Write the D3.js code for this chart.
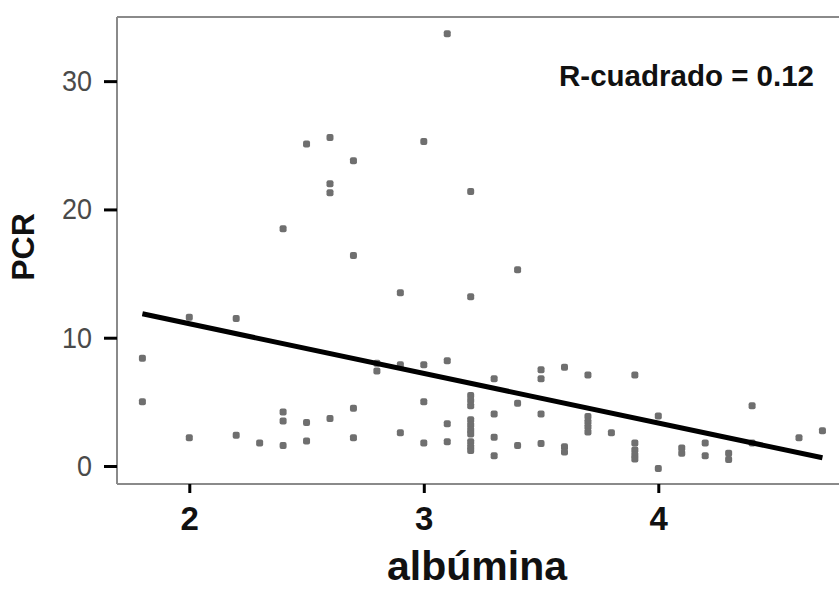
<!DOCTYPE html>
<html>
<head>
<meta charset="utf-8">
<script src="https://cdn.jsdelivr.net/npm/d3@7/dist/d3.min.js"></script>
<style>
  html, body { margin: 0; padding: 0; background: #fff; }
  svg { display: block; }
  text { font-family: "Liberation Sans", Arial, sans-serif; }
</style>
</head>
<body>
<svg id="chart" width="839" height="589"></svg>
<script>
// Albumin (x) per observation
const albumina = [
  1.8, 1.8,
  2.0, 2.0,
  2.2, 2.2,
  2.3,
  2.4, 2.4, 2.4, 2.4,
  2.5, 2.5, 2.5,
  2.6, 2.6, 2.6, 2.6,
  2.7, 2.7, 2.7, 2.7,
  2.8, 2.8,
  2.9, 2.9, 2.9,
  3.0, 3.0, 3.0, 3.0,
  3.1, 3.1, 3.1, 3.1,
  3.2, 3.2, 3.2, 3.2, 3.2, 3.2, 3.2, 3.2, 3.2, 3.2, 3.2, 3.2,
  3.3, 3.3, 3.3, 3.3,
  3.4, 3.4, 3.4,
  3.5, 3.5, 3.5, 3.5,
  3.6, 3.6, 3.6,
  3.7, 3.7, 3.7, 3.7, 3.7,
  3.8,
  3.9, 3.9, 3.9, 3.9, 3.9,
  4.0, 4.0,
  4.1, 4.1,
  4.2, 4.2,
  4.3, 4.3,
  4.4, 4.4,
  4.6,
  4.7
];
// C-reactive protein (y) per observation
const pcr = [
  8.4, 5.0,
  11.6, 2.2,
  11.5, 2.4,
  1.8,
  18.5, 4.2, 3.5, 1.6,
  25.1, 3.4, 1.95,
  25.6, 22.0, 21.3, 3.7,
  23.8, 16.4, 4.5, 2.2,
  8.0, 7.4,
  13.5, 7.9, 2.6,
  25.3, 7.9, 5.0, 1.8,
  33.7, 8.2, 3.3, 1.9,
  21.4, 13.2, 5.5, 5.1, 4.7, 3.6, 3.2, 2.8, 2.5, 1.9, 1.5, 1.2,
  6.8, 4.05, 2.25, 0.8,
  15.3, 4.9, 1.6,
  7.5, 6.8, 4.05, 1.75,
  7.7, 1.5, 1.1,
  7.1, 3.85, 3.45, 3.05, 2.65,
  2.6,
  7.1, 1.8, 1.25, 0.85, 0.55,
  3.9, -0.2,
  1.4, 1.0,
  1.8, 0.8,
  1.0, 0.5,
  4.7, 1.8,
  2.2,
  2.75
];
// Fitted line PCR = a + b * albumina, drawn across the observed albumin range
const fitIntercept = 18.83;
const fitSlope = -3.87;
const rSquaredLabel = "R-cuadrado = 0.12";

const xTicks = [2, 3, 4];
const yTicks = [0, 10, 20, 30];
const xTitle = "albúmina";
const yTitle = "PCR";

const svg = d3.select("#chart");
const plotLeft = 117, plotRight = 839, plotTop = 17, plotBottom = 484;

const x = d3.scaleLinear().domain([1.6917, 4.7706]).range([plotLeft, plotRight]);
const y = d3.scaleLinear().domain([-1.403, 35.0]).range([plotBottom, plotTop]);

// frame lines (top, left, bottom)
const frame = svg.append("g").attr("stroke", "#8a8a8a").attr("stroke-width", 2).attr("fill", "none");
frame.append("line").attr("x1", plotLeft).attr("x2", plotRight).attr("y1", plotTop).attr("y2", plotTop);
frame.append("line").attr("x1", plotLeft).attr("x2", plotLeft).attr("y1", plotTop).attr("y2", plotBottom);
frame.append("line").attr("x1", plotLeft).attr("x2", plotRight).attr("y1", plotBottom).attr("y2", plotBottom);

// y axis
const yAxis = svg.append("g")
  .attr("transform", `translate(${plotLeft},0)`)
  .call(d3.axisLeft(y).tickValues(yTicks).tickSize(13).tickPadding(9).tickFormat(d3.format("d")));
yAxis.select(".domain").remove();
yAxis.selectAll(".tick line").attr("stroke", "#000").attr("stroke-width", 3);
yAxis.selectAll(".tick text")
  .attr("fill", "#4a4a4a")
  .attr("font-size", 29)
  .attr("font-family", "'Liberation Sans', Arial, sans-serif")
  .attr("transform", "scale(0.93,1)")
  .attr("x", -25 / 0.93);

// x axis
const xAxis = svg.append("g")
  .attr("transform", `translate(0,${plotBottom})`)
  .call(d3.axisBottom(x).tickValues(xTicks).tickSize(9).tickPadding(14).tickFormat(d3.format("d")));
xAxis.select(".domain").remove();
xAxis.selectAll(".tick line").attr("stroke", "#000").attr("stroke-width", 3);
xAxis.selectAll(".tick text")
  .attr("fill", "#111")
  .attr("font-size", 33)
  .attr("font-weight", "bold")
  .attr("font-family", "'Liberation Sans', Arial, sans-serif");

// points
svg.append("g")
  .selectAll("rect")
  .data(albumina.map((a, i) => [a, pcr[i]]))
  .join("rect")
  .attr("x", d => x(d[0]) - 3.5)
  .attr("y", d => y(d[1]) - 3.5)
  .attr("width", 7)
  .attr("height", 7)
  .attr("rx", 2)
  .attr("fill", "#6f6f6f");

// regression line
const xr = d3.extent(albumina);
svg.append("line")
  .attr("x1", x(xr[0])).attr("y1", y(fitIntercept + fitSlope * xr[0]))
  .attr("x2", x(xr[1])).attr("y2", y(fitIntercept + fitSlope * xr[1]))
  .attr("stroke", "#000")
  .attr("stroke-width", 5);

// R squared annotation
svg.append("text")
  .attr("x", 814).attr("y", 86)
  .attr("text-anchor", "end")
  .attr("font-size", 29.5)
  .attr("font-weight", "bold")
  .attr("fill", "#111")
  .text(rSquaredLabel);

// axis titles
svg.append("text")
  .attr("x", 477).attr("y", 580)
  .attr("text-anchor", "middle")
  .attr("font-size", 41)
  .attr("font-weight", "bold")
  .attr("fill", "#111")
  .text(xTitle);

svg.append("text")
  .attr("transform", "translate(34,247) rotate(-90)")
  .attr("text-anchor", "middle")
  .attr("font-size", 32)
  .attr("font-weight", "bold")
  .attr("fill", "#111")
  .text(yTitle);
</script>
</body>
</html>
